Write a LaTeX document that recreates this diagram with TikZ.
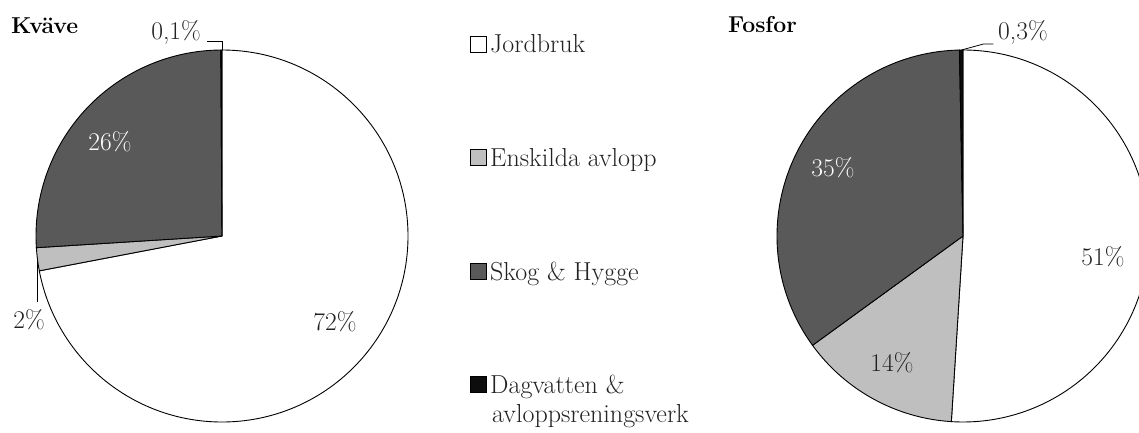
\documentclass[tikz,border=0pt]{standalone}
\usepackage{fontspec}
\setmainfont{Latin Modern Roman}
\usetikzlibrary{calc}
\definecolor{dark}{HTML}{595959}
\definecolor{light}{HTML}{BFBFBF}
\definecolor{blk}{HTML}{0D0D0D}
\definecolor{txt}{HTML}{222222}
\tikzset{
  slice/.style={draw=black, line width=0.9pt, line join=round},
  pct/.style={inner sep=0pt, text=txt, font=\fontsize{25.5}{30}\selectfont},
  wpct/.style={inner sep=0pt, text=white, font=\fontsize{25.5}{30}\selectfont},
  ttl/.style={inner sep=0pt, font=\fontsize{23}{27}\selectfont\bfseries},
  legtext/.style={inner sep=0pt, anchor=base west, text=txt, font=\fontsize{26}{30}\selectfont},
  legbox/.style={draw=black, line width=0.6pt, minimum size=16pt, inner sep=0pt, anchor=south west},
  leader/.style={draw=black, line width=0.8pt}
}
\newcommand{\pieslice}[5]{% center, r, a1, a2, color
  \filldraw[slice, fill=#5] (#1) -- ++(#3:#2) arc[start angle=#3, end angle=#4, radius=#2] -- cycle;
}
\begin{document}
\begin{tikzpicture}[x=1pt,y=1pt]
\clip (0,0) rectangle (1139,432);
\fill[white] (0,0) rectangle (1139,432);
% ---------- Kväve ----------
\coordinate (kc) at (222,196);
\pieslice{kc}{186}{90}{-169.2}{white}
\pieslice{kc}{186}{-169.2}{-176.4}{light}
\pieslice{kc}{186}{-176.4}{-269.64}{dark}
\pieslice{kc}{186}{-269.64}{-270}{blk}
\node[ttl, anchor=west] (kvave) at (11,406) {Kväve};
\node[wpct] (k26) at (110,290) {26\%};
\node[pct] (k72) at (335,110) {72\%};
\node[pct, anchor=east] (k01) at (201,400) {0,1\%};
\node[pct] (k2) at (29,112) {2\%};
\coordinate (kt) at ($(kc)+(0,186)$);
\coordinate (kg) at ($(kc)+(-173:186)$);
\draw[leader] (kt) -- ++(0,9) -- ++(-15,0);
\draw[leader] (kg) -- (kg |- 0,130);
% ---------- Fosfor ----------
\coordinate (fc) at (963,196);
\pieslice{fc}{186}{90}{-93.6}{white}
\pieslice{fc}{186}{-93.6}{-144}{light}
\pieslice{fc}{186}{-144}{-268.9}{dark}
\pieslice{fc}{186}{-268.9}{-270}{blk}
\node[ttl, anchor=west] (fosfor) at (728,407) {Fosfor};
\node[wpct] (f35) at (833,264) {35\%};
\node[pct] (f14) at (892,69) {14\%};
\node[pct] (f51) at (1103,175) {51\%};
\node[pct, anchor=west] (f03) at (998,400) {0,3\%};
\coordinate (ft) at ($(fc)+(90.5:186)$);
\draw[leader] (ft) -- ++(22,6) -- ++(10,0);
% ---------- Legend ----------
\node[legbox, fill=white] (b1) at (470,379) {};
\node[legtext] (t1) at (490,379) {Jordbruk};
\node[legbox, fill=light] (b2) at (470,266) {};
\node[legtext] (t2) at (490,266) {Enskilda avlopp};
\node[legbox, fill=dark] (b3) at (470,152) {};
\node[legtext] (t3) at (490,152) {Skog \& Hygge};
\node[legbox, fill=blk] (b4) at (470,39) {};
\node[legtext] (t4) at (490,39) {Dagvatten \&};
\node[legtext] (t5) at (492,10) {avloppsreningsverk};
\end{tikzpicture}
\end{document}
